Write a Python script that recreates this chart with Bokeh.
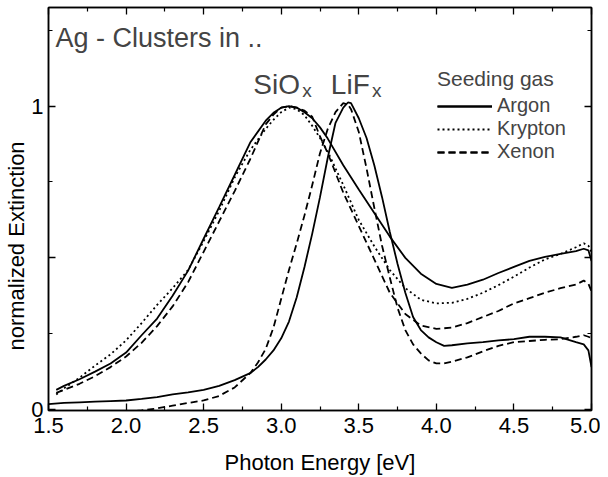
from bokeh.plotting import figure
from bokeh.models import (Range1d, LinearAxis, FixedTicker, Label, Legend,
                          LegendItem, CustomJSTickFormatter, Title)
from bokeh.embed import file_html
from bokeh.resources import INLINE

# ---------------- data ----------------
e_sio = [1.55, 1.6, 1.7, 1.8, 1.9, 2.0, 2.1, 2.2, 2.3, 2.4, 2.5, 2.6, 2.7, 2.8,
         2.9, 2.95, 3.0, 3.05, 3.1, 3.15, 3.2, 3.25, 3.3, 3.4, 3.5, 3.6, 3.7,
         3.8, 3.9, 4.0, 4.1, 4.2, 4.3, 4.4, 4.5, 4.6, 4.7, 4.8, 4.9, 4.95,
         4.98, 5.0]
sio_argon = [0.065, 0.078, 0.100, 0.125, 0.152, 0.188, 0.245, 0.300, 0.375,
             0.458, 0.563, 0.667, 0.773, 0.880, 0.952, 0.978, 0.995, 1.000,
             0.995, 0.980, 0.960, 0.930, 0.893, 0.805, 0.725, 0.648, 0.570,
             0.500, 0.448, 0.414, 0.401, 0.412, 0.428, 0.450, 0.470, 0.490,
             0.503, 0.513, 0.522, 0.530, 0.525, 0.490]
sio_krypton = [0.050, 0.070, 0.105, 0.145, 0.182, 0.228, 0.285, 0.345, 0.400,
               0.460, 0.555, 0.655, 0.765, 0.855, 0.925, 0.955, 0.980, 0.995,
               0.990, 0.970, 0.935, 0.895, 0.850, 0.740, 0.625, 0.538, 0.460,
               0.400, 0.362, 0.350, 0.352, 0.365, 0.385, 0.410, 0.438, 0.468,
               0.495, 0.513, 0.535, 0.548, 0.540, 0.520]
sio_xenon = [0.055, 0.065, 0.085, 0.110, 0.140, 0.175, 0.220, 0.275, 0.340,
             0.420, 0.520, 0.620, 0.720, 0.825, 0.940, 0.972, 0.995, 1.000,
             0.995, 0.985, 0.965, 0.900, 0.845, 0.715, 0.605, 0.495, 0.385,
             0.315, 0.277, 0.266, 0.270, 0.285, 0.305, 0.325, 0.350, 0.367,
             0.385, 0.400, 0.412, 0.425, 0.415, 0.390]

e_lif = [1.5, 1.6, 1.7, 1.8, 1.9, 2.0, 2.1, 2.2, 2.3, 2.4, 2.5, 2.6, 2.7, 2.8,
         2.85, 2.9, 2.95, 3.0, 3.05, 3.1, 3.15, 3.2, 3.25, 3.3, 3.35, 3.4,
         3.43, 3.45, 3.5, 3.55, 3.6, 3.65, 3.7, 3.75, 3.8, 3.85, 3.9, 3.95,
         4.0, 4.05, 4.1, 4.2, 4.3, 4.4, 4.5, 4.6, 4.7, 4.8, 4.9, 4.95, 4.98,
         5.0]
lif_argon = [0.018, 0.022, 0.024, 0.026, 0.028, 0.030, 0.035, 0.041, 0.050,
             0.057, 0.065, 0.078, 0.097, 0.120, 0.140, 0.165, 0.195, 0.235,
             0.290, 0.370, 0.470, 0.580, 0.700, 0.830, 0.945, 0.995, 1.012,
             1.010, 0.960, 0.895, 0.805, 0.700, 0.585, 0.480, 0.385, 0.305,
             0.262, 0.238, 0.222, 0.210, 0.212, 0.218, 0.222, 0.228, 0.232,
             0.240, 0.240, 0.238, 0.222, 0.215, 0.195, 0.140]
lif_xenon = [-0.005, -0.010, -0.012, -0.012, -0.010, -0.008, -0.003, 0.004,
             0.013, 0.022, 0.030, 0.045, 0.073, 0.120, 0.155, 0.200, 0.270,
             0.365, 0.460, 0.548, 0.640, 0.740, 0.845, 0.925, 0.980, 1.010,
             1.005, 0.990, 0.915, 0.795, 0.665, 0.540, 0.435, 0.335, 0.262,
             0.215, 0.185, 0.162, 0.152, 0.152, 0.158, 0.172, 0.192, 0.210,
             0.222, 0.226, 0.230, 0.232, 0.240, 0.245, 0.240, 0.235]

x_ticks = [1.5, 2.0, 2.5, 3.0, 3.5, 4.0, 4.5, 5.0]
x_tick_labels = ["1.5", "2.0", "2.5", "3.0", "3.5", "4.0", "4.5", "5.0"]
x_minor = [1.75, 2.25, 2.75, 3.25, 3.75, 4.25, 4.75]
y_ticks = [0.0, 0.5, 1.0]
y_tick_labels = ["0", "", "1"]
y_minor = [0.25, 0.75, 1.25]

series_names = ["Argon", "Krypton", "Xenon"]
legend_title = "Seeding gas"
title_text = "Ag - Clusters in .."
x_label = "Photon Energy [eV]"
y_label = "normalized Extinction"

FONT = "Liberation Sans"

# ---------------- figure ----------------
p = figure(frame_width=543, frame_height=403,
           x_range=Range1d(1.5, 5.0), y_range=Range1d(-0.003, 1.325),
           output_backend="svg", toolbar_location=None,
           min_border_left=48, min_border_right=9, min_border_top=7,
           min_border_bottom=0)
p.grid.visible = False
p.outline_line_color = "black"
p.outline_line_width = 1.5
p.background_fill_color = "white"
p.border_fill_color = "white"

xt = FixedTicker(ticks=x_ticks, minor_ticks=x_minor)
yt = FixedTicker(ticks=y_ticks, minor_ticks=y_minor)


def style_axis(ax, labels=True):
    ax.axis_line_color = "black"
    ax.axis_line_width = 1.5
    ax.major_tick_in = 7
    ax.major_tick_out = 0
    ax.minor_tick_in = 4
    ax.minor_tick_out = 0
    ax.major_tick_line_width = 1.3
    ax.minor_tick_line_width = 1.2
    ax.major_label_text_font = FONT
    ax.major_label_text_font_size = "22px"
    ax.major_label_text_color = "black"
    ax.axis_label_text_font = FONT
    ax.axis_label_text_font_size = "22px"
    ax.axis_label_text_font_style = "normal"
    ax.axis_label_text_color = "black"
    if not labels:
        ax.formatter = CustomJSTickFormatter(code="return ''")
        ax.major_label_standoff = 0
        ax.major_label_text_font_size = "0px"


xa = p.xaxis[0]
xa.ticker = xt
style_axis(xa)
xa.major_label_overrides = dict(zip(x_ticks, x_tick_labels))
xa.major_label_standoff = 7
xa.axis_label = x_label
xa.axis_label_standoff = 14

ya = p.yaxis[0]
ya.ticker = yt
style_axis(ya)
ya.major_label_overrides = dict(zip(y_ticks, y_tick_labels))
ya.major_label_standoff = 5

top = LinearAxis(ticker=xt)
style_axis(top, labels=False)
p.add_layout(top, "above")
right = LinearAxis(ticker=yt)
style_axis(right, labels=False)
p.add_layout(right, "right")

ytitle = Title(text=y_label, align="left", offset=60,
               text_font=FONT, text_font_size="22px",
               text_font_style="normal", text_color="black", standoff=0)
p.add_layout(ytitle, "left")

# ---------------- curves ----------------
LW = 1.8
r_sa = p.line(e_sio, sio_argon, line_color="black", line_width=LW)
r_sk = p.line(e_sio, sio_krypton, line_color="black", line_width=LW,
              line_dash="2 3")
r_sx = p.line(e_sio, sio_xenon, line_color="black", line_width=LW,
              line_dash="7 4")
r_la = p.line(e_lif, lif_argon, line_color="black", line_width=LW)
r_lx = p.line(e_lif, lif_xenon, line_color="black", line_width=LW,
              line_dash="7 4")

# one legend per row so the rows sit as close as in the original
legend_rows = [
    (series_names[0], [r_sa, r_la], 293),
    (series_names[1], [r_sk], 270),
    (series_names[2], [r_sx, r_lx], 247),
]
for i, (name, rends, ypos) in enumerate(legend_rows):
    lg = Legend(items=[LegendItem(label=name, renderers=rends)],
                location=(389, ypos))
    if i == 0:
        lg.title = legend_title
        lg.title_text_font = FONT
        lg.title_text_font_size = "21px"
        lg.title_text_font_style = "normal"
        lg.title_standoff = 3
    lg.label_text_font = FONT
    lg.label_text_font_size = "20px"
    lg.glyph_width = 55
    lg.glyph_height = 18
    lg.label_height = 18
    lg.label_standoff = 5
    lg.spacing = 0
    lg.padding = 0
    lg.margin = 0
    lg.border_line_color = None
    lg.background_fill_alpha = 0
    p.add_layout(lg)

# ---------------- texts ----------------
p.add_layout(Label(x=1.545, y=1.224, text=title_text, text_font=FONT,
                   text_font_size="27px", text_baseline="alphabetic"))
p.add_layout(Label(x=2.82, y=1.072, text="SiO", text_font=FONT,
                   text_font_size="28px", text_baseline="alphabetic"))
p.add_layout(Label(x=3.135, y=1.050, text="x", text_font=FONT,
                   text_font_size="19px", text_baseline="alphabetic"))
p.add_layout(Label(x=3.32, y=1.072, text="LiF", text_font=FONT,
                   text_font_size="28px", text_baseline="alphabetic"))
p.add_layout(Label(x=3.585, y=1.050, text="x", text_font=FONT,
                   text_font_size="19px", text_baseline="alphabetic"))

open("out.html", "w").write(file_html(p, INLINE))
